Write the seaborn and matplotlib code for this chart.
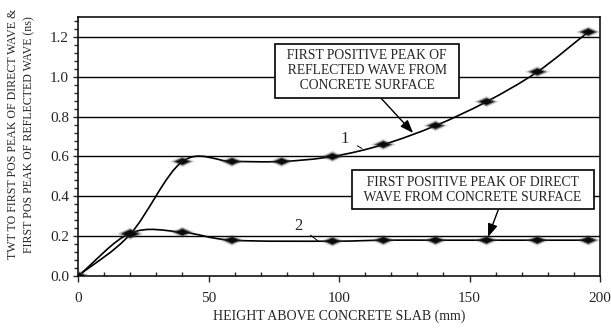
import numpy as np
import pandas as pd
import matplotlib
matplotlib.use("Agg")
import matplotlib.pyplot as plt
from matplotlib.path import Path
from matplotlib.patches import PathPatch
from matplotlib.ticker import MultipleLocator
import seaborn as sns

# ---- data ----
height_reflected = [0, 20, 40, 59, 78, 97.5, 117, 137, 156.5, 176, 195.5]
twt_reflected = [0.0, 0.21, 0.575, 0.575, 0.575, 0.60, 0.66, 0.755, 0.875, 1.025, 1.225]
height_direct = [0, 20, 40, 59, 97.5, 117, 137, 156.5, 176, 195.5]
twt_direct = [0.0, 0.215, 0.22, 0.18, 0.175, 0.18, 0.18, 0.18, 0.18, 0.18]

x_ticks = [0, 50, 100, 150, 200]
y_ticks = [0.0, 0.2, 0.4, 0.6, 0.8, 1.0, 1.2]

label_reflected = "  FIRST POSITIVE PEAK OF  \n  REFLECTED WAVE FROM  \n  CONCRETE SURFACE  "
label_direct = "  FIRST POSITIVE PEAK OF DIRECT  \n  WAVE FROM CONCRETE SURFACE  "
x_label = "HEIGHT ABOVE CONCRETE SLAB (mm)"
y_label = "TWT TO FIRST POS PEAK OF DIRECT WAVE &\nFIRST POS PEAK OF REFLECTED WAVE (ns)"

df_r = pd.DataFrame({"h": height_reflected, "t": twt_reflected})
df_d = pd.DataFrame({"h": height_direct, "t": twt_direct})

sns.set_theme(style="ticks")
plt.rcParams["font.family"] = ["Liberation Serif", "DejaVu Serif"]

fig = plt.figure(figsize=(6.11, 3.31), dpi=100)
ax = fig.add_axes([0.1277, 0.166, 0.8543, 0.7826])


def smooth_path(xs, ys):
    pts = np.column_stack([xs, ys]).astype(float)
    n = len(pts)
    tang = np.zeros_like(pts)
    tang[0] = pts[1] - pts[0]
    tang[-1] = pts[-1] - pts[-2]
    for i in range(1, n - 1):
        tang[i] = (pts[i + 1] - pts[i - 1]) / 2.0
    verts = [tuple(pts[0])]
    codes = [Path.MOVETO]
    for i in range(n - 1):
        c1 = pts[i] + tang[i] / 3.0
        c2 = pts[i + 1] - tang[i + 1] / 3.0
        verts += [tuple(c1), tuple(c2), tuple(pts[i + 1])]
        codes += [Path.CURVE4] * 3
    return Path(verts, codes)


# horizontal grid
for yv in y_ticks[1:]:
    ax.axhline(yv, color="black", lw=1.0, zorder=0)

# smooth curves
for df in (df_r, df_d):
    ax.add_patch(PathPatch(smooth_path(df["h"], df["t"]), facecolor="none",
                           edgecolor="black", lw=1.2, zorder=2))

# blurred diamond markers
diamond = Path([(-1, 0), (0, 0.45), (1, 0), (0, -0.45), (-1, 0)],
               [Path.MOVETO, Path.LINETO, Path.LINETO, Path.LINETO, Path.CLOSEPOLY])
for df in (df_r, df_d):
    sns.scatterplot(data=df, x="h", y="t", marker=diamond, s=320, color="#555555",
                    alpha=0.25, edgecolor="none", linewidth=0, ax=ax, zorder=3)
    sns.scatterplot(data=df, x="h", y="t", marker=diamond, s=180, color="#222222",
                    alpha=0.65, edgecolor="none", linewidth=0, ax=ax, zorder=4)
    sns.scatterplot(data=df, x="h", y="t", marker=diamond, s=95, color="#0a0a0a",
                    edgecolor="none", linewidth=0, ax=ax, zorder=5)

ax.set_xlim(0, 200)
ax.set_ylim(0, 1.3)
ax.set_xticks(x_ticks)
ax.set_yticks(y_ticks)
ax.set_yticklabels([f"{v:.1f}" for v in y_ticks])
ax.xaxis.set_minor_locator(MultipleLocator(10))
ax.yaxis.set_minor_locator(MultipleLocator(0.04))
ax.tick_params(axis="x", which="major", direction="out", length=4.5, width=1, labelsize=11, pad=7)
ax.tick_params(axis="x", which="minor", direction="in", length=3, width=1)
ax.tick_params(axis="y", which="major", direction="out", length=3.5, width=1, labelsize=11, pad=3)
ax.tick_params(axis="y", which="minor", direction="out", length=3, width=1)
for s in ax.spines.values():
    s.set_color("black")
    s.set_linewidth(1.1)

ax.set_xlabel(x_label, fontsize=10, labelpad=3.5)
ax.set_ylabel(y_label, fontsize=8.6, linespacing=1.5)
ax.yaxis.set_label_coords(-0.082, 0.548)

box = dict(boxstyle="square,pad=0.42", facecolor="white", edgecolor="black", lw=1.2)
ax.annotate(label_reflected, xy=(128.4, 0.718), xytext=(110.7, 1.03),
            ha="center", va="center", fontsize=9.8, linespacing=1.2, bbox=box,
            arrowprops=dict(arrowstyle="-|>,head_length=0.8,head_width=0.3",
                            color="black", lw=1.0, shrinkA=0, shrinkB=0,
                            relpos=(0.55, 0.0)), zorder=6)
ax.annotate(label_direct, xy=(157.1, 0.196), xytext=(151.3, 0.434),
            ha="center", va="center", fontsize=9.8, linespacing=1.2, bbox=box,
            arrowprops=dict(arrowstyle="-|>,head_length=0.8,head_width=0.3",
                            color="black", lw=1.0, shrinkA=0, shrinkB=0,
                            relpos=(0.62, 0.0)), zorder=6)

ax.annotate("1", xy=(108.8, 0.64), xytext=(102.3, 0.69), ha="center", va="center",
            fontsize=12, arrowprops=dict(arrowstyle="-", color="black", lw=0.7,
                                         shrinkA=4, shrinkB=0), zorder=6)
ax.annotate("2", xy=(92, 0.176), xytext=(84.5, 0.25), ha="center", va="center",
            fontsize=12, arrowprops=dict(arrowstyle="-", color="black", lw=0.7,
                                         shrinkA=4, shrinkB=0), zorder=6)

fig.savefig("out.png", dpi=100)
